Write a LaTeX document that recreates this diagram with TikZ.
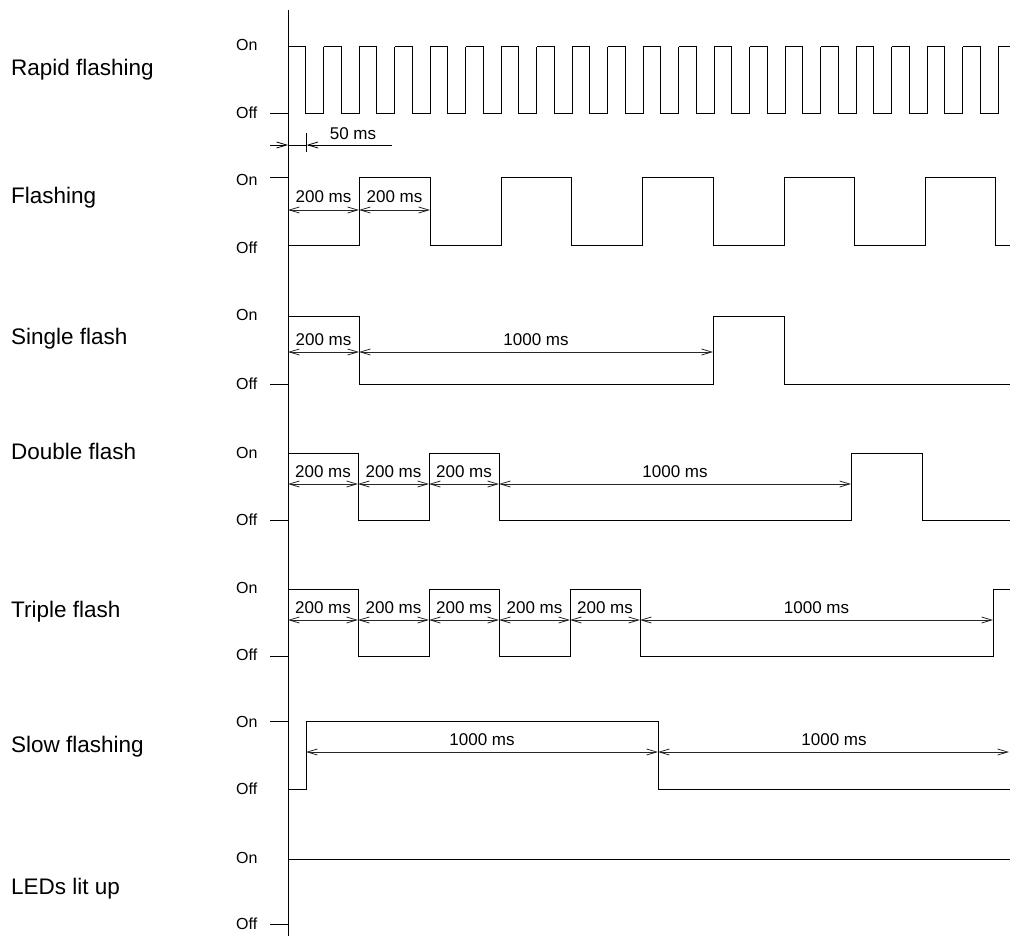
\documentclass[tikz,border=0pt]{standalone}
\usepackage{fontspec}
\setmainfont{Liberation Sans}
\usetikzlibrary{arrows.meta}
\tikzset{barb/.tip={Straight Barb[length=10pt,width=6pt,line width=0.8pt]}}
\begin{document}
\begin{tikzpicture}[x=1pt,y=-1pt,
  sig/.style={line width=1pt, black},
  dim/.style={line width=0.8pt, black!85, barb-barb},
  rowlabel/.style={anchor=base west, inner sep=0pt, font=\fontsize{22.5}{26}\selectfont},
  lvl/.style={anchor=west, inner sep=0pt, font=\fontsize{16}{18}\selectfont},
  dimtext/.style={anchor=base, inner sep=0pt, font=\fontsize{17}{19}\selectfont}
]
\useasboundingbox (0,0) rectangle (1010,936);
% axis
\coordinate (axtop) at (288,10);
\coordinate (axbot) at (288,936);
\draw[sig] (axtop) -- (axbot);

% row labels
\node[rowlabel] (lrapid) at (11,76) {Rapid flashing};
\node[rowlabel] (lflash) at (11,204) {Flashing};
\node[rowlabel] (lsingle) at (11,344) {Single flash};
\node[rowlabel] (ldouble) at (11,459) {Double flash};
\node[rowlabel] (ltriple) at (11,617) {Triple flash};
\node[rowlabel] (lslow) at (11,752) {Slow flashing};
\node[rowlabel] (lleds) at (11,894) {LEDs lit up};

% On/Off labels
\node[lvl] (on1) at (236,45) {On};   \node[lvl] (off1) at (236,113) {Off};
\node[lvl] (on2) at (236,180) {On};  \node[lvl] (off2) at (236,248) {Off};
\node[lvl] (on3) at (236,315) {On};  \node[lvl] (off3) at (236,384) {Off};
\node[lvl] (on4) at (236,453) {On};  \node[lvl] (off4) at (236,520) {Off};
\node[lvl] (on5) at (236,588) {On};  \node[lvl] (off5) at (236,655) {Off};
\node[lvl] (on6) at (236,722) {On};  \node[lvl] (off6) at (236,789) {Off};
\node[lvl] (on7) at (236,858) {On};  \node[lvl] (off7) at (236,924) {Off};

% ticks
\draw[sig] (270,114) -- (288,114);
\draw[sig] (270,178) -- (288,178);
\draw[sig] (270,384) -- (288,384);
\draw[sig] (270,520) -- (288,520);
\draw[sig] (270,656) -- (288,656);
\draw[sig] (270,721) -- (288,721);
\draw[sig] (270,924) -- (288,924);

% Rapid flashing
\foreach \i in {0,...,19}{
  \draw[sig] (288+\i*35.5,47) -- ++(17.75,0) -- ++(0,67) -- ++(17.75,0) -- ++(0,-67);
}
\draw[sig] (998,47) -- (1010,47);
% 50 ms
\coordinate (r0) at (270,145);
\coordinate (r1) at (288,145);
\coordinate (r2) at (306.7,145);
\coordinate (r3) at (392,145);
\draw[line width=0.8pt, -barb] (r0) -- (r1);
\draw[line width=0.8pt] (r1) -- (r2);
\draw[line width=0.8pt, barb-] (r2) -- (r3);
\draw[line width=0.8pt] (306.7,133) -- (306.7,152);
\node[dimtext] (t50) at (353,140) {50 ms};

% Flashing
\draw[sig] (288,246) -- (359,246) -- (359,178) -- (430,178) -- (430,246) -- (501,246) -- (501,178) -- (571,178) -- (571,246) -- (642,246) -- (642,178) -- (713,178) -- (713,246) -- (784,246) -- (784,178) -- (854,178) -- (854,246) -- (925,246) -- (925,178) -- (995,178) -- (995,246) -- (1010,246);
\draw[dim] (288,210) -- (359,210);
\draw[dim] (359,210) -- (430,210);
\node[dimtext] (f1) at (323.5,203) {200 ms};
\node[dimtext] (f2) at (394.5,203) {200 ms};

% Single flash
\draw[sig] (288,316) -- (359,316) -- (359,384) -- (713,384) -- (713,316) -- (784,316) -- (784,384) -- (1010,384);
\draw[dim] (288,352) -- (359,352);
\draw[dim] (359,352) -- (713,352);
\node[dimtext] (s1) at (323.5,345) {200 ms};
\node[dimtext] (s2) at (536,345) {1000 ms};

% Double flash
\draw[sig] (288,453) -- (358,453) -- (358,520) -- (429,520) -- (429,453) -- (499,453) -- (499,520) -- (851,520) -- (851,453) -- (922,453) -- (922,520) -- (1010,520);
\draw[dim] (288,484) -- (358,484);
\draw[dim] (358,484) -- (429,484);
\draw[dim] (429,484) -- (499,484);
\draw[dim] (499,484) -- (851,484);
\node[dimtext] (d1) at (323,477) {200 ms};
\node[dimtext] (d2) at (393.5,477) {200 ms};
\node[dimtext] (d3) at (464,477) {200 ms};
\node[dimtext] (d4) at (675,477) {1000 ms};

% Triple flash
\draw[sig] (288,589) -- (358,589) -- (358,656) -- (429,656) -- (429,589) -- (499,589) -- (499,656) -- (570,656) -- (570,589) -- (640,589) -- (640,656) -- (993,656) -- (993,589) -- (1010,589);
\draw[dim] (288,620) -- (358,620);
\draw[dim] (358,620) -- (429,620);
\draw[dim] (429,620) -- (499,620);
\draw[dim] (499,620) -- (570,620);
\draw[dim] (570,620) -- (640,620);
\draw[dim] (640,620) -- (993,620);
\node[dimtext] (tr1) at (323,613) {200 ms};
\node[dimtext] (tr2) at (393.5,613) {200 ms};
\node[dimtext] (tr3) at (464,613) {200 ms};
\node[dimtext] (tr4) at (534.5,613) {200 ms};
\node[dimtext] (tr5) at (605,613) {200 ms};
\node[dimtext] (tr6) at (816.5,613) {1000 ms};

% Slow flashing
\draw[sig] (288,789) -- (306,789) -- (306,721) -- (658,721) -- (658,789) -- (1010,789);
\draw[dim] (306,752) -- (658,752);
\draw[dim] (658,752) -- (1009,752);
\node[dimtext] (sl1) at (482,745) {1000 ms};
\node[dimtext] (sl2) at (834,745) {1000 ms};

% LEDs lit up
\draw[sig] (288,859) -- (1010,859);
\end{tikzpicture}
\end{document}
